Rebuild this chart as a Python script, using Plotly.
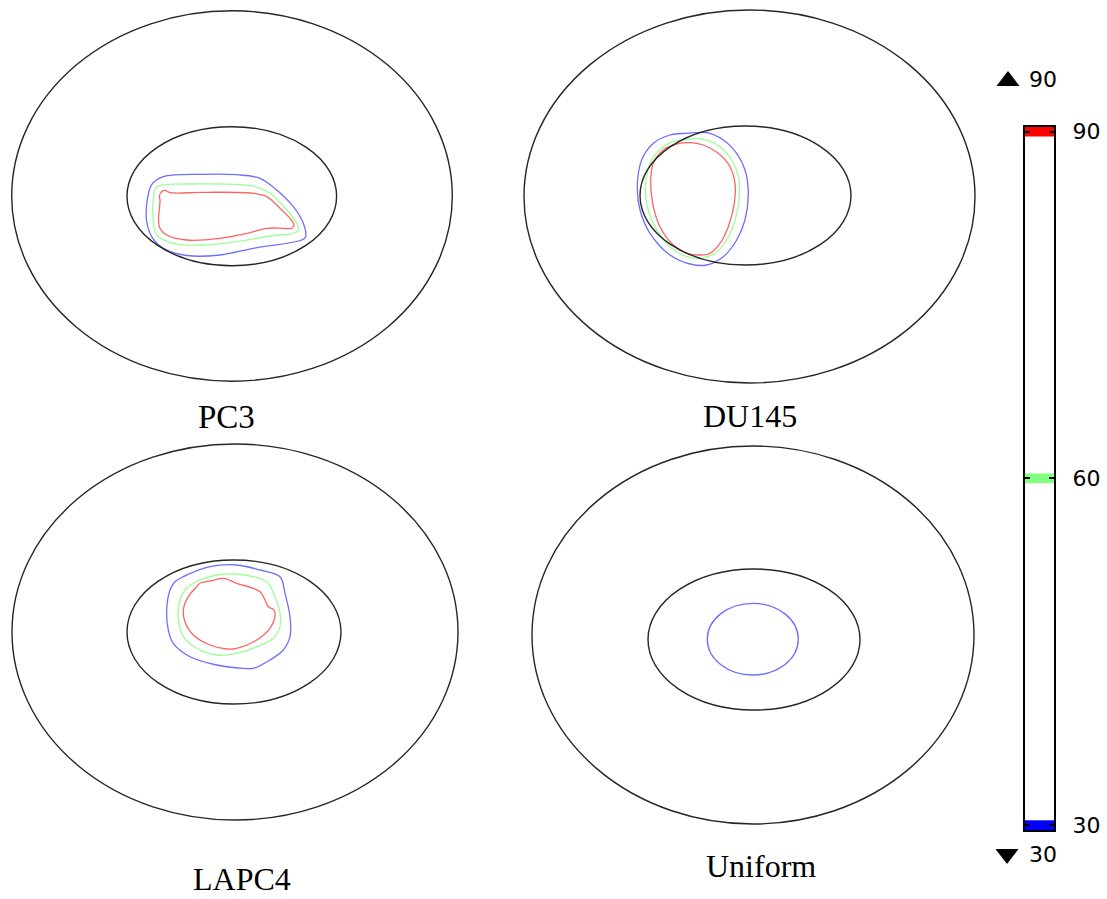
import plotly.graph_objects as go

# ---------------- data (diagram units = pixels of the original figure) ----------------
PANELS = ["PC3", "DU145", "LAPC4", "Uniform"]

# outer / inner ellipse: centre x, centre y, radius x, radius y
OUTER_CX = [232, 749.5, 235, 753]
OUTER_CY = [196, 196.5, 632, 635]
OUTER_RX = [220.3, 225.5, 223, 221]
OUTER_RY = [185.2, 186.5, 188, 189]

INNER_CX = [231.8, 745.5, 234, 754]
INNER_CY = [196.2, 195.5, 632, 639.5]
INNER_RX = [104.8, 105.5, 107, 106]
INNER_RY = [69.5, 69.5, 72, 70.5]

LABEL_X = [226, 750, 242, 761]
LABEL_Y = [417, 416, 879, 866]
LABEL_SIZE = [33, 32, 32, 32]

# isotherm contours (level 30 = blue, 60 = green, 90 = red)
PC3_30 = [(163.3, 176.7), (203.3, 174.3), (236.7, 174.7), (260, 178.3), (276.7, 190), (293.3, 206.7),
          (303.3, 223.3), (305.5, 237.3), (300, 240.5), (253.3, 248.3), (220, 255), (186.7, 255.5),
          (163.3, 248.3), (151.7, 236.7), (146.5, 220), (147.3, 200), (151.7, 184.7)]
PC3_60 = [(162, 185), (186.7, 184), (220, 184), (253.3, 186.2), (270, 193.3), (286.7, 210), (296.7, 223.3),
          (298.6, 230), (293.3, 233.3), (270, 236), (236.7, 241.7), (203.3, 245), (173.3, 243.3),
          (156.7, 235), (153.3, 220), (153.6, 196.7), (156, 187.5)]
PC3_90 = [(161.7, 191.7), (165, 190.4), (170, 192.7), (203.3, 192.3), (253.3, 193.3), (266.7, 196.7),
          (280, 208.3), (290, 218.3), (294, 225), (291.7, 228.3), (283.3, 228.3), (266.7, 228.3),
          (246.7, 233.3), (220, 238.3), (186.7, 240), (166.7, 235), (159.3, 226.7), (160, 200),
          (159.3, 196)]

DU145_30 = [(686.7, 133.3), (706.7, 132.7), (723.3, 140), (736.7, 153.3), (745, 170), (748.3, 193.3),
            (745, 220), (736.7, 240), (723.3, 256.7), (706.7, 265), (690, 264), (670, 255), (650, 233.3),
            (640, 210), (637.3, 186.7), (641.7, 160), (653.3, 143.3), (670, 135)]
DU145_60 = [(686.7, 139.3), (703.3, 139.3), (720, 146.7), (731.7, 160), (738.3, 176.7), (739.3, 196.7),
            (735, 220), (726.7, 240), (715, 253.3), (700, 258.3), (686.7, 256.7), (670, 246.7),
            (655, 226.7), (646.7, 203.3), (646, 180), (651.7, 160), (663.3, 146.7), (676.7, 140.7)]
DU145_90 = [(690, 142.7), (703.3, 145), (718.3, 153.3), (730, 166.7), (735, 183.3), (734.3, 203.3),
            (728.3, 226.7), (720, 243.3), (710, 253.3), (700, 255), (686.7, 253.3), (673.3, 245),
            (660, 226.7), (652.7, 203.3), (650.7, 180), (653.3, 163.3), (663.3, 150), (676.7, 144)]

LAPC4_30 = [(183.3, 576.7), (210, 566.7), (236.7, 565), (260, 570), (280, 576.7), (285, 593.3),
            (290, 616.7), (290, 636.7), (283.3, 650), (270, 660), (253.3, 668.3), (243.3, 668.3),
            (216.7, 665), (190, 656.7), (173.3, 643.3), (168.3, 630), (166.7, 610), (170, 590),
            (175, 581.7)]
LAPC4_60 = [(193.3, 583.3), (216.7, 575), (236.7, 574), (253.3, 576.7), (266.7, 581.7), (275, 596.7),
            (280, 613.3), (280, 626.7), (273.3, 638.3), (256.7, 646.7), (236.7, 653.3), (216.7, 655),
            (196.7, 648.3), (183.3, 636.7), (178.3, 620), (180, 600), (185, 590)]
LAPC4_90 = [(200, 583.3), (211.7, 580.7), (223.3, 578.3), (236.7, 583.3), (260, 591.7), (268.3, 606.7),
            (274, 610), (275, 616.7), (270, 628.3), (256.7, 640), (236.7, 648.3), (226.7, 649),
            (210, 645), (193.3, 635), (185, 621.7), (183.3, 610), (188.3, 596.7), (196.7, 586.7)]

UNIFORM_30_CX, UNIFORM_30_CY, UNIFORM_30_RX, UNIFORM_30_RY = 752.8, 639.2, 45.5, 35.8

LEVELS = [30, 60, 90]
LEVEL_COLORS = ["#0000ff", "#80ff80", "#ff0000"]
LINE_COLORS = {30: "#6e6eff", 60: "#9cff9c", 90: "#ff6464"}
MAX_LABEL = "90"
MIN_LABEL = "30"

CONTOURS = [(PC3_30, 30), (PC3_60, 60), (PC3_90, 90),
            (DU145_30, 30), (DU145_60, 60), (DU145_90, 90),
            (LAPC4_30, 30), (LAPC4_60, 60), (LAPC4_90, 90)]

# ---------------- figure ----------------
W, H = 1107, 899
fig = go.Figure()

for pts, lev in CONTOURS:
    xs = [p[0] for p in pts] + [pts[0][0]]
    ys = [p[1] for p in pts] + [pts[0][1]]
    fig.add_trace(go.Scatter(x=xs, y=ys, mode="lines",
                             line=dict(color=LINE_COLORS[lev], width=1.3, shape="spline", smoothing=1.0),
                             hoverinfo="skip", showlegend=False, xaxis="x", yaxis="y"))

shapes = []
for i in range(4):
    shapes.append(dict(type="circle", xref="x", yref="y",
                       x0=OUTER_CX[i] - OUTER_RX[i], x1=OUTER_CX[i] + OUTER_RX[i],
                       y0=OUTER_CY[i] - OUTER_RY[i], y1=OUTER_CY[i] + OUTER_RY[i],
                       line=dict(color="#262626", width=1.4), layer="above"))
    shapes.append(dict(type="circle", xref="x", yref="y",
                       x0=INNER_CX[i] - INNER_RX[i], x1=INNER_CX[i] + INNER_RX[i],
                       y0=INNER_CY[i] - INNER_RY[i], y1=INNER_CY[i] + INNER_RY[i],
                       line=dict(color="#262626", width=1.4), layer="above"))
shapes.append(dict(type="circle", xref="x", yref="y",
                   x0=UNIFORM_30_CX - UNIFORM_30_RX, x1=UNIFORM_30_CX + UNIFORM_30_RX,
                   y0=UNIFORM_30_CY - UNIFORM_30_RY, y1=UNIFORM_30_CY + UNIFORM_30_RY,
                   line=dict(color=LINE_COLORS[30], width=1.3), layer="above"))

annotations = []
for i, name in enumerate(PANELS):
    annotations.append(dict(x=LABEL_X[i], y=LABEL_Y[i], xref="x", yref="y", text=name,
                            showarrow=False, xanchor="center", yanchor="middle",
                            font=dict(family="Liberation Serif", size=LABEL_SIZE[i], color="black")))

# max / min markers
fig.add_trace(go.Scatter(x=[1008], y=[81], mode="markers",
                         marker=dict(symbol="triangle-up", size=20, color="black"),
                         hoverinfo="skip", showlegend=False))
fig.add_trace(go.Scatter(x=[1007], y=[854], mode="markers",
                         marker=dict(symbol="triangle-down", size=20, color="black"),
                         hoverinfo="skip", showlegend=False))
annotations.append(dict(x=1027, y=79, xref="x", yref="y", text=MAX_LABEL, showarrow=False,
                        xanchor="left", yanchor="middle",
                        font=dict(family="DejaVu Sans", size=22, color="black")))
annotations.append(dict(x=1027, y=854, xref="x", yref="y", text=MIN_LABEL, showarrow=False,
                        xanchor="left", yanchor="middle",
                        font=dict(family="DejaVu Sans", size=22, color="black")))

# colour bar bands
BAND = 0.42
for lev, col in zip(LEVELS, LEVEL_COLORS):
    fig.add_trace(go.Bar(x=[0.5], y=[2 * BAND], base=[lev - BAND], width=[1.0],
                         marker=dict(color=col, line=dict(width=0)),
                         hoverinfo="skip", showlegend=False, xaxis="x2", yaxis="y2"))

bar_top_px, bar_bot_px = 126.7, 830
fig.update_layout(
    width=W, height=H, margin=dict(l=0, r=0, t=0, b=0, pad=0, autoexpand=False),
    paper_bgcolor="white", plot_bgcolor="white", barmode="overlay",
    xaxis=dict(range=[0, W], domain=[0, 1], visible=False, fixedrange=True),
    yaxis=dict(range=[H, 0], domain=[0, 1], visible=False, fixedrange=True),
    xaxis2=dict(domain=[1025 / W, 1054 / W], range=[0, 1], anchor="y2",
                showline=True, mirror=True, linecolor="black", linewidth=2,
                showticklabels=False, ticks="", showgrid=False, zeroline=False, fixedrange=True),
    yaxis2=dict(domain=[(H - bar_bot_px) / H, (H - bar_top_px) / H], range=[30 - BAND, 90 + BAND],
                anchor="x2", side="right", tickvals=LEVELS, ticktext=[str(v) for v in LEVELS],
                ticks="inside", ticklen=5, tickwidth=2, tickcolor="black",
                showline=True, mirror="ticks", linecolor="black", linewidth=2,
                showgrid=False, zeroline=False, fixedrange=True, ticklabelstandoff=12,
                tickfont=dict(family="DejaVu Sans", size=22, color="black")),
    shapes=shapes, annotations=annotations,
)

fig.write_html("out.html")
